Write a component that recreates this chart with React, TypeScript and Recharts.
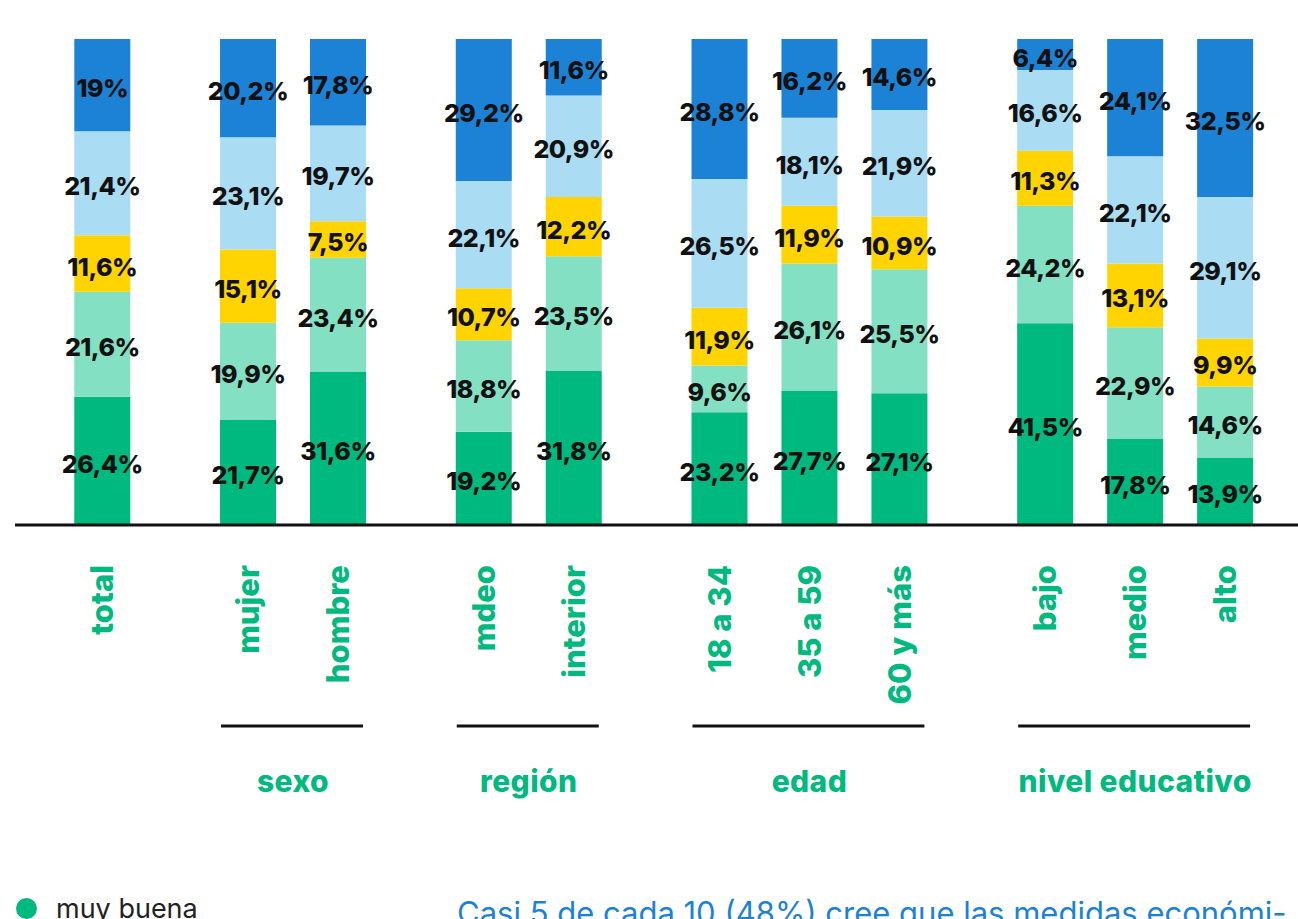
import React from "react";
import { Bar, BarChart, LabelList, XAxis, YAxis } from "recharts";

const categories = ["total", "mujer", "hombre", "mdeo", "interior", "18 a 34", "35 a 59", "60 y más", "bajo", "medio", "alto"];
const groupNames = ["", "sexo", "región", "edad", "nivel educativo"];
const groupIndex = [0, 1, 1, 2, 2, 3, 3, 3, 4, 4, 4];

const seriesNames = ["muy buena", "buena", "ni buena ni mala", "mala", "muy mala"];
const muyBuena = [26.4, 21.7, 31.6, 19.2, 31.8, 23.2, 27.7, 27.1, 41.5, 17.8, 13.9];
const buena = [21.6, 19.9, 23.4, 18.8, 23.5, 9.6, 26.1, 25.5, 24.2, 22.9, 14.6];
const regular = [11.6, 15.1, 7.5, 10.7, 12.2, 11.9, 11.9, 10.9, 11.3, 13.1, 9.9];
const mala = [21.4, 23.1, 19.7, 22.1, 20.9, 26.5, 18.1, 21.9, 16.6, 22.1, 29.1];
const muyMala = [19, 20.2, 17.8, 29.2, 11.6, 28.8, 16.2, 14.6, 6.4, 24.1, 32.5];

const keys = ["muyBuena", "buena", "regular", "mala", "muyMala"];
const colors = ["#00B97E", "#84E0C3", "#FFD400", "#AADDF4", "#1C82D6"];
const GREEN = "#00B97E";
const FONT = "Inter, 'Open Sans', sans-serif";

// extra space between groups, in bar steps
const GROUP_GAP = 0.62;
const positions = categories.map((_, i) => i + groupIndex[i] * GROUP_GAP);

const W = 1298;
const H = 919;
const LEFT = 15;
const DOMAIN: [number, number] = [-0.97, positions[positions.length - 1] + 0.81];
const STEP_PX = (W - LEFT) / (DOMAIN[1] - DOMAIN[0]);
const BAR = 56;

const data = categories.map((name, i) => ({
  name,
  pos: positions[i],
  muyBuena: muyBuena[i],
  buena: buena[i],
  regular: regular[i],
  mala: mala[i],
  muyMala: muyMala[i],
}));

const fmt = (v: any) => String(v).replace(".", ",") + "%";

if (typeof document !== "undefined") document.body.style.margin = "0";

function ValueLabel(props: any) {
  const { x, y, width, height, value } = props;
  return (
    <text
      x={x + width / 2}
      y={y + height / 2 + 3}
      dy="0.36em"
      textAnchor="middle"
      fill="#111"
      fontSize={25}
      fontWeight={800}
      fontFamily={FONT}
      letterSpacing={-0.5}
    >
      {fmt(value)}
    </text>
  );
}

function CategoryTick(props: any) {
  const { x, y, index } = props;
  const g = groupIndex[index];
  const members = groupIndex.map((gi, i) => (gi === g ? i : -1)).filter((i) => i >= 0);
  const isFirst = members[0] === index;
  const span = (members.length - 1) * STEP_PX;
  const top = y + 40;
  return (
    <g>
      <text
        x={x}
        y={top}
        dy="0.36em"
        textAnchor="end"
        transform={`rotate(-90, ${x}, ${top})`}
        fill={GREEN}
        fontSize={31}
        fontWeight={800}
        fontFamily={FONT}
      >
        {categories[index]}
      </text>
      {g > 0 && isFirst && (
        <g>
          <line x1={x - 27} x2={x + span + 25} y1={y + 201} y2={y + 201} stroke="#111" strokeWidth={3} />
          <text
            x={x + span / 2}
            y={y + 267}
            textAnchor="middle"
            fill={GREEN}
            fontSize={30}
            fontWeight={800}
            fontFamily={FONT}
            letterSpacing={0.4}
          >
            {groupNames[g]}
          </text>
        </g>
      )}
    </g>
  );
}

export default function App() {
  return (
    <div style={{ position: "relative", width: W, height: H, overflow: "hidden", background: "#fff", fontFamily: FONT }}>
      <BarChart
        width={W}
        height={H}
        data={data}
        stackOffset="expand"
        margin={{ top: 39, right: 0, left: LEFT, bottom: 0 }}
      >
        <XAxis
          dataKey="pos"
          type="number"
          domain={DOMAIN}
          ticks={positions}
          interval={0}
          height={394}
          tickSize={0}
          tickMargin={0}
          tickLine={false}
          axisLine={{ stroke: "#111", strokeWidth: 3 }}
          tick={<CategoryTick />}
        />
        <YAxis hide domain={[0, 1]} />
        {keys.map((k, i) => (
          <Bar key={k} dataKey={k} name={seriesNames[i]} stackId="a" fill={colors[i]} barSize={BAR} isAnimationActive={false}>
            <LabelList dataKey={k} content={<ValueLabel />} />
          </Bar>
        ))}
      </BarChart>

      <div style={{ position: "absolute", left: 16, top: 895 }}>
        {seriesNames.map((n, i) => (
          <div key={n} style={{ display: "flex", alignItems: "center", height: 27, marginBottom: 12 }}>
            <span style={{ width: 21, height: 21, borderRadius: "50%", background: colors[i], display: "inline-block" }} />
            <span style={{ marginLeft: 19, fontSize: 27, lineHeight: "27px", color: "#222" }}>{n}</span>
          </div>
        ))}
      </div>

      <div
        style={{
          position: "absolute",
          left: 457,
          top: 897,
          fontSize: 31,
          lineHeight: "31px",
          color: "#1C82D6",
          whiteSpace: "nowrap",
        }}
      >
        Casi 5 de cada 10 (48%) cree que las medidas económi-
      </div>
    </div>
  );
}
